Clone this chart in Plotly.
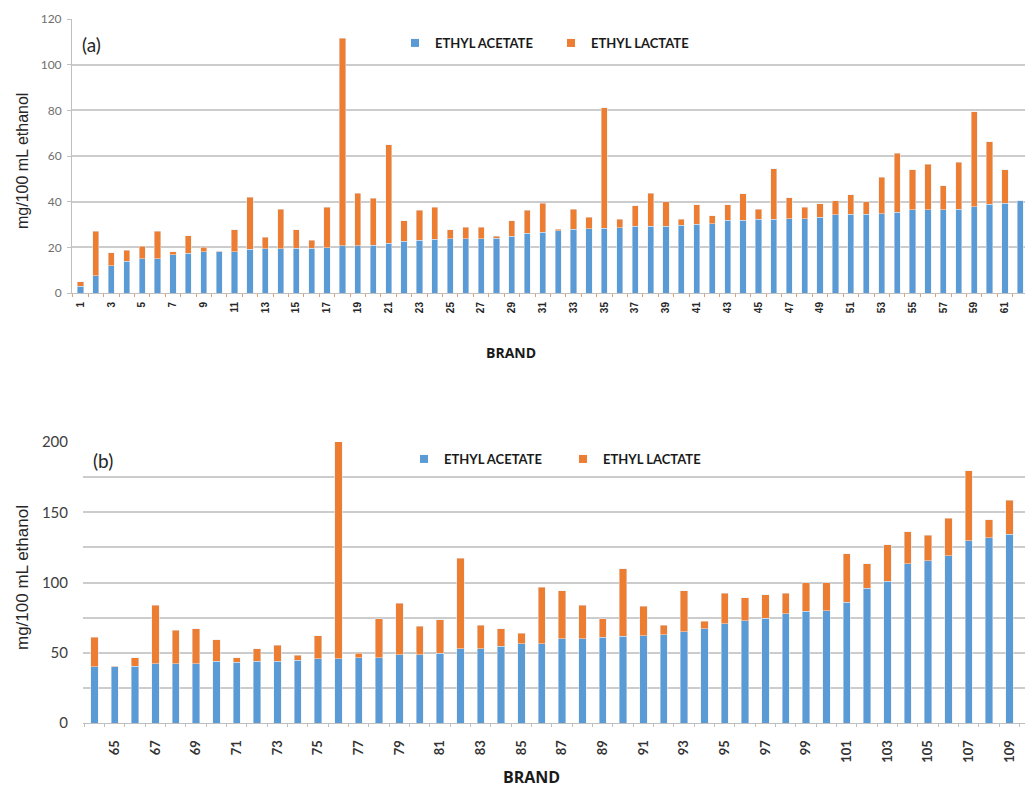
import plotly.graph_objects as go

# ---------------- data ----------------
brands_a = list(range(1, 63))
acetate_a = [3.0, 7.6, 12.0, 14.0, 15.0, 15.0, 16.8, 17.5, 18.0, 18.0,
             18.0, 19.2, 19.4, 19.4, 19.5, 19.7, 19.8, 20.8, 20.8, 21.0,
             21.9, 22.6, 23.0, 23.6, 23.8, 23.8, 23.8, 23.9, 24.8, 26.2,
             26.7, 27.3, 28.0, 28.1, 28.3, 28.6, 29.2, 29.2, 29.2, 29.6,
             30.2, 30.3, 31.8, 31.8, 32.4, 32.2, 32.5, 32.5, 33.2, 34.3,
             34.5, 34.5, 34.8, 35.3, 36.4, 36.4, 36.5, 36.7, 37.7, 38.8,
             39.3, 40.4]
lactate_a = [2.0, 19.4, 5.6, 4.7, 5.4, 12.0, 1.2, 7.5, 2.0, 0.2,
             9.7, 22.8, 5.1, 17.3, 8.2, 3.3, 17.8, 90.7, 22.9, 20.5,
             43.0, 9.0, 13.3, 14.0, 3.9, 4.9, 4.9, 0.9, 6.8, 10.1,
             12.7, 0.6, 8.7, 5.1, 52.9, 3.8, 9.1, 14.5, 10.8, 2.8,
             8.4, 3.5, 6.8, 11.6, 4.3, 22.2, 9.3, 5.1, 5.9, 6.2,
             8.5, 5.5, 16.0, 25.9, 17.6, 20.0, 10.5, 20.6, 41.7, 27.5,
             14.6, 0.0]
ticks_a = list(range(1, 64, 2))

brands_b = list(range(64, 110))
acetate_b = [40.0, 40.0, 40.3, 42.0, 42.0, 42.0, 43.9, 43.4, 43.9, 43.9,
             44.6, 45.8, 45.8, 46.3, 46.3, 48.6, 48.6, 49.8, 52.7, 52.7,
             54.6, 56.5, 56.5, 60.0, 60.0, 61.2, 61.7, 62.2, 62.9, 64.8,
             67.1, 70.7, 72.8, 74.7, 77.8, 79.5, 80.0, 85.9, 96.0, 100.8,
             113.2, 115.5, 119.1, 129.8, 131.7, 134.5]
lactate_b = [21.2, 0.5, 6.0, 41.7, 24.0, 25.0, 15.4, 2.9, 9.1, 11.4,
             3.6, 16.4, 155.2, 3.5, 28.0, 36.8, 20.2, 23.7, 64.7, 16.8,
             12.5, 7.5, 40.1, 34.2, 23.7, 13.1, 48.1, 20.8, 6.6, 29.4,
             5.3, 21.8, 16.2, 16.6, 14.7, 20.5, 20.0, 34.4, 17.2, 26.2,
             22.8, 18.1, 26.8, 49.8, 13.0, 24.2]
ticks_b = list(range(65, 110, 2))

series_names = ["ETHYL ACETATE", "ETHYL LACTATE"]
BLUE = "#5B9BD5"
ORANGE = "#ED7D31"
GRID = "#cccccc"

W, H = 1025, 787

fig = go.Figure()

# top chart
fig.add_trace(go.Bar(x=brands_a, y=acetate_a, name=series_names[0], marker_color=BLUE,
                     width=0.4, xaxis="x", yaxis="y", showlegend=False))
fig.add_trace(go.Bar(x=brands_a, y=lactate_a, name=series_names[1], marker_color=ORANGE,
                     width=0.4, xaxis="x", yaxis="y", showlegend=False))
# bottom chart
fig.add_trace(go.Bar(x=brands_b, y=acetate_b, name=series_names[0], marker_color=BLUE,
                     width=0.36, xaxis="x2", yaxis="y2", showlegend=False))
fig.add_trace(go.Bar(x=brands_b, y=lactate_b, name=series_names[1], marker_color=ORANGE,
                     width=0.36, xaxis="x2", yaxis="y2", showlegend=False))

# legend entries (small square keys, as in the original)
for leg, xa, ya in [("legend", "x", "y"), ("legend2", "x2", "y2")]:
    for name, col in zip(series_names, [BLUE, ORANGE]):
        fig.add_trace(go.Scatter(x=[None], y=[None], mode="markers", name=name,
                                 marker=dict(symbol="square", size=8, color=col),
                                 xaxis=xa, yaxis=ya, legend=leg, showlegend=True))

def px_x(p):
    return p / W

def px_y(p):
    return 1 - p / H

legend_font = dict(family="Lato, 'Open Sans', sans-serif", size=13, color="#1a1a1a", weight="bold")

fig.update_layout(
    width=W, height=H, autosize=False,
    margin=dict(l=0, r=0, t=0, b=0, pad=0, autoexpand=False),
    paper_bgcolor="white", plot_bgcolor="white",
    barmode="stack",
    showlegend=True,
    xaxis=dict(domain=[px_x(72), 1.0], anchor="y", range=[0.45, 62.3], automargin=False,
               tickmode="array", tickvals=ticks_a, ticktext=[str(t) for t in ticks_a],
               tickangle=-90, ticks="", ticklabelstandoff=4,
               tickfont=dict(family="'Liberation Sans', Arial, sans-serif", size=10,
                             color="#262626", weight="bold"),
               showgrid=False, zeroline=False, showline=True, linecolor="#bfbfbf", linewidth=1,
               minor=dict(tickmode="linear", tick0=0.5, dtick=1, ticks="outside",
                          ticklen=3, tickcolor="#e0a070", showgrid=False)),
    yaxis=dict(domain=[px_y(293), px_y(19)], anchor="x", range=[0, 120], automargin=False,
               tickmode="linear", tick0=0, dtick=20,
               tickfont=dict(family="Lato, sans-serif", size=12, color="#6f6f6f"),
               ticks="outside", ticklen=4, tickcolor="#bfbfbf",
               showgrid=True, gridcolor=GRID, gridwidth=1.5, zeroline=False,
               showline=True, linecolor="#bfbfbf", linewidth=1, ticklabelstandoff=3),
    xaxis2=dict(domain=[px_x(83), 1.0], anchor="y2", range=[63.44, 109.77], automargin=False,
                tickmode="array", tickvals=ticks_b, ticktext=[str(t) for t in ticks_b],
                tickangle=-90, ticks="", ticklabelstandoff=11,
                tickfont=dict(family="Lato, sans-serif", size=13, color="#333333", weight="bold"),
                showgrid=False, zeroline=False, showline=True, linecolor="#bfbfbf", linewidth=1,
                minor=dict(tickmode="linear", tick0=0.5, dtick=1, ticks="outside",
                           ticklen=3, tickcolor="#bfbfbf", showgrid=False)),
    yaxis2=dict(domain=[px_y(723), px_y(442)], anchor="x2", range=[0, 200], automargin=False,
                tickmode="array", tickvals=[0, 50, 100, 150, 200],
                tickfont=dict(family="Lato, sans-serif", size=15, color="#404040"),
                ticks="", showgrid=True, gridcolor=GRID, gridwidth=1.5,
                zeroline=False, showline=False, ticklabelstandoff=14,
                minor=dict(tickmode="linear", tick0=0, dtick=25, showgrid=True,
                           gridcolor=GRID, gridwidth=1.5)),
    legend=dict(orientation="h", x=px_x(395), xanchor="left", y=px_y(43), yanchor="middle",
                font=legend_font, bgcolor="rgba(0,0,0,0)", entrywidth=111,
                entrywidthmode="pixels", itemwidth=30, traceorder="normal"),
    legend2=dict(orientation="h", x=px_x(404), xanchor="left", y=px_y(459), yanchor="middle",
                 font=legend_font, bgcolor="rgba(0,0,0,0)", entrywidth=114,
                 entrywidthmode="pixels", itemwidth=30, traceorder="normal"),
)

ann_font_title = dict(family="'Liberation Sans', Arial, sans-serif", color="#262626")
def ann(text, x, y, font, angle=0):
    fig.add_annotation(text=text, x=px_x(x), y=px_y(y), xref="paper", yref="paper",
                       xanchor="center", yanchor="middle", textangle=angle,
                       showarrow=False, font=font)

ann("mg/100 mL ethanol", 22, 161, dict(size=16, **ann_font_title), -90)
ann("mg/100 mL ethanol", 22, 578, dict(size=17, **ann_font_title), -90)
ann("(a)", 91, 45, dict(family="Lato, sans-serif", size=19, color="#262626"))
ann("(b)", 103, 461, dict(family="Lato, sans-serif", size=19, color="#262626"))
ann("<b>BRAND</b>", 511, 352, dict(family="'Open Sans', sans-serif", size=14, color="#1a1a1a"))
ann("<b>BRAND</b>", 531, 777, dict(family="'Open Sans', sans-serif", size=16, color="#1a1a1a"))

fig.write_html("out.html", config={"displayModeBar": False},
               post_script="document.body.style.margin='0';document.body.style.overflow='hidden';")
